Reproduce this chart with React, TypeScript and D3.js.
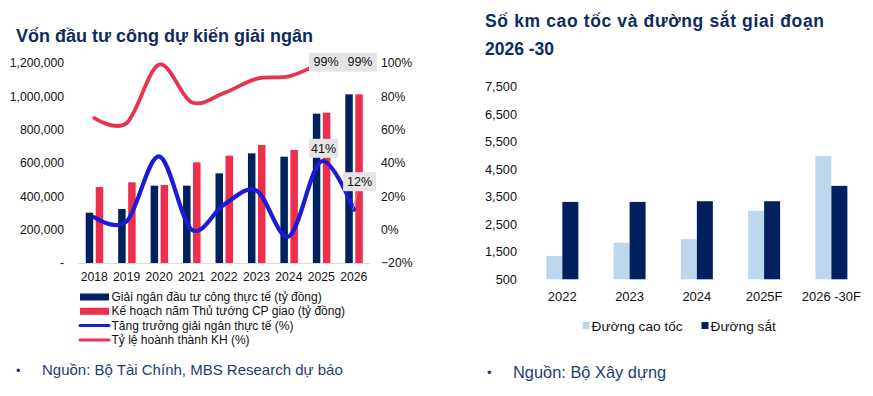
import React from "react";
import * as d3 from "d3";

const years = ["2018", "2019", "2020", "2021", "2022", "2023", "2024", "2025", "2026"];
const actual = [302000, 324000, 464000, 464000, 538000, 658000, 638000, 896000, 1012000];
const plan = [456000, 484000, 468000, 604000, 644000, 708000, 678000, 902000, 1012000];
const growth = [0.074, 0.05, 0.44, 0.0, 0.15, 0.234, -0.04, 0.41, 0.12];
const completion = [0.67, 0.64, 0.99, 0.765, 0.82, 0.905, 0.92, 0.99, 0.99];
const leftTicks = [0, 200000, 400000, 600000, 800000, 1000000, 1200000];
const rightTicks = [-0.2, 0, 0.2, 0.4, 0.6, 0.8, 1.0];

const periods = ["2022", "2023", "2024", "2025F", "2026 -30F"];
const highway = [1350, 1830, 1960, 2990, 4990];
const railway = [3315, 3315, 3340, 3340, 3900];
const kmTicks = [500, 1500, 2500, 3500, 4500, 5500, 6500, 7500];

const FONT = "'Liberation Sans', Arial, sans-serif";
const NAVY = "#002060";
const RED = "#EE2E4B";
const BLUE = "#1B1BD8";
const PINK = "#E8334F";
const TITLE = "#0F2A5E";
const SRC = "#1F3B73";
const LIGHT = "#BDD7EE";

export default function App() {
  // Left chart
  const x = d3.scaleBand<string>().domain(years).range([78, 370]).padding(0);
  const yL = d3.scaleLinear().domain([0, 1200000]).range([263, 63]);
  const yR = d3.scaleLinear().domain([-0.2, 1.0]).range([263, 63]);
  const cx = (y: string) => (x(y) as number) + x.bandwidth() / 2;
  const bw = 7.5;
  const line = d3.line<number>().curve(d3.curveCardinal.tension(0));
  const blueD = line(growth.map((g, i) => [cx(years[i]), yR(g)] as any) as any);
  const redD = line(completion.map((g, i) => [cx(years[i]), yR(g)] as any) as any);
  const fmt = d3.format(",");
  const pct = d3.format(".0%");

  // Right chart
  const x2 = d3.scaleBand<string>().domain(periods).range([528.7, 865]).padding(0);
  const y2 = d3.scaleLinear().domain([500, 7500]).range([279.3, 86.9]);
  const cx2 = (p: string) => (x2(p) as number) + x2.bandwidth() / 2;
  const bw2 = 16;

  const labelBox = (xc: number, yc: number, text: string, key: string, w = 34) => (
    <g key={key}>
      <rect x={xc - w / 2} y={yc - 9.5} width={w} height={19} fill="#E4E4E4" />
      <text x={xc} y={yc + 4.3} textAnchor="middle" fontSize={12.5} fill="#111">{text}</text>
    </g>
  );

  const legendItems = [
    { label: "Giải ngân đầu tư công thực tế (tỷ đồng)", color: NAVY, type: "bar" },
    { label: "Kế hoạch năm Thủ tướng CP giao (tỷ đồng)", color: RED, type: "bar" },
    { label: "Tăng trưởng giải ngân thực tế (%)", color: BLUE, type: "line" },
    { label: "Tỷ lệ hoành thành KH (%)", color: PINK, type: "line" },
  ];

  const i25 = years.indexOf("2025");
  const i26 = years.indexOf("2026");

  return (
    <svg width={873} height={396} style={{ position: "absolute", left: 0, top: 0, fontFamily: FONT }}>
      <rect width={873} height={396} fill="#fff" />
      {/* Left title */}
      <text x={16} y={41.5} fontSize={18} fontWeight="bold" fill={TITLE}>Vốn đầu tư công dự kiến giải ngân</text>

      {/* Left axis labels */}
      {leftTicks.map((t) => (
        <text key={"l" + t} x={64} y={yL(t) + 4.3} textAnchor="end" fontSize={12.2} fill="#111">{t === 0 ? "-" : fmt(t)}</text>
      ))}
      {rightTicks.map((t) => (
        <text key={"r" + t} x={381} y={yR(t) + 4.3} textAnchor="start" fontSize={12.2} fill="#111">{pct(t)}</text>
      ))}

      {/* Bars */}
      {years.map((yr, i) => (
        <g key={"b" + yr}>
          <rect x={cx(yr) - bw - 1} y={yL(actual[i])} width={bw} height={yL(0) - yL(actual[i])} fill={NAVY} />
          <rect x={cx(yr) + 1.5} y={yL(plan[i])} width={bw} height={yL(0) - yL(plan[i])} fill={RED} />
        </g>
      ))}
      <line x1={78} x2={370} y1={263.5} y2={263.5} stroke="#D9D9D9" strokeWidth={1} />
      {years.map((yr) => (
        <text key={"x" + yr} x={cx(yr)} y={281} textAnchor="middle" fontSize={12.2} fill="#111">{yr}</text>
      ))}

      {/* Lines */}
      <path d={redD as string} fill="none" stroke={PINK} strokeWidth={3.8} strokeLinecap="round" />
      <path d={blueD as string} fill="none" stroke={BLUE} strokeWidth={4.2} strokeLinecap="round" />

      {/* Data labels */}
      <line x1={cx(years[i26]) - 1} y1={yR(growth[i26])} x2={cx(years[i26]) + 4} y2={191} stroke="#A6A6A6" strokeWidth={0.8} />
      {labelBox(cx(years[i25]) + 4.7, yR(completion[i25]) - 2.5, pct(completion[i25]), "c25")}
      {labelBox(cx(years[i26]) + 6.2, yR(completion[i26]) - 2.5, pct(completion[i26]), "c26")}
      {labelBox(cx(years[i25]) + 2.2, yR(growth[i25]) - 13, pct(growth[i25]), "g25", 29)}
      {labelBox(cx(years[i26]) + 5.8, yR(growth[i26]) - 28, pct(growth[i26]), "g26", 33)}

      {/* Legend */}
      {legendItems.map((it, i) => {
        const yc = 297 + i * 14.3;
        return (
          <g key={"lg" + i}>
            {it.type === "bar" ? (
              <rect x={80} y={yc - 3.5} width={29} height={7} fill={it.color} />
            ) : (
              <line x1={80} x2={109} y1={yc} y2={yc} stroke={it.color} strokeWidth={3} strokeLinecap="round" />
            )}
            <text x={111.5} y={yc + 4} fontSize={12} fill="#111">{it.label}</text>
          </g>
        );
      })}

      {/* Left source */}
      <text x={16} y={375} fontSize={13} fill={SRC}>•</text>
      <text x={42} y={375} fontSize={15} fill={SRC}>Nguồn: Bộ Tài Chính, MBS Research dự báo</text>

      {/* Right title */}
      <text x={485} y={27} fontSize={17.5} fontWeight="bold" fill={TITLE} textLength={339} lengthAdjust="spacing">Số km cao tốc và đường sắt giai đoạn</text>
      <text x={485} y={55} fontSize={17.5} fontWeight="bold" fill={TITLE}>2026 -30</text>

      {kmTicks.map((t) => (
        <text key={"k" + t} x={517} y={y2(t) + 4.5} textAnchor="end" fontSize={12.8} fill="#111">{fmt(t)}</text>
      ))}
      {periods.map((p, i) => (
        <g key={"p" + p}>
          <rect x={cx2(p) - bw2} y={y2(highway[i])} width={bw2} height={y2(500) - y2(highway[i])} fill={LIGHT} />
          <rect x={cx2(p)} y={y2(railway[i])} width={bw2} height={y2(500) - y2(railway[i])} fill={NAVY} />
          <text x={cx2(p)} y={301} textAnchor="middle" fontSize={13} fill="#111">{p}</text>
        </g>
      ))}

      {/* Right legend */}
      <rect x={582.5} y={322} width={7} height={7} fill={LIGHT} />
      <text x={591.5} y={330.5} fontSize={13.7} fill="#111">Đường cao tốc</text>
      <rect x={701.5} y={322} width={7} height={7} fill={NAVY} />
      <text x={710.5} y={330.5} fontSize={13.7} fill="#111">Đường sắt</text>

      {/* Right source */}
      <text x={487} y={377} fontSize={13} fill={SRC}>•</text>
      <text x={513} y={377.5} fontSize={16.4} fill={SRC}>Nguồn: Bộ Xây dựng</text>
    </svg>
  );
}
